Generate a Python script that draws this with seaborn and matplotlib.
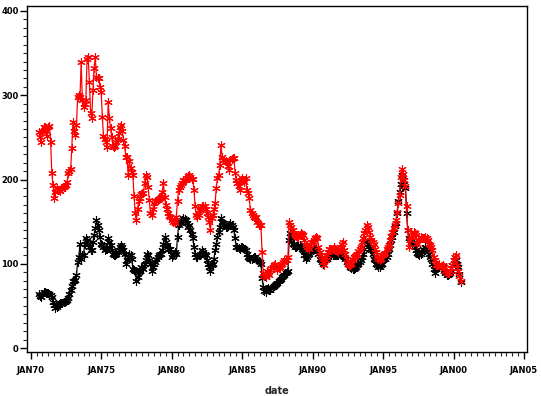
import numpy as np
import pandas as pd
import matplotlib
matplotlib.use("Agg")
import matplotlib.pyplot as plt
from matplotlib.ticker import MultipleLocator, FixedLocator, FixedFormatter
import seaborn as sns

# monthly series, Aug 1970 .. Jul 2000
red = [
    256, 250, 245, 258, 262,                                   # 1970 (Aug-Dec)
    262, 258, 252, 262, 264, 245, 208, 193, 178, 185, 190, 188,  # 1971
    188, 186, 190, 189, 191, 192, 194, 197, 208, 210, 212, 237,  # 1972
    268, 258, 253, 265, 298, 300, 298, 340, 294, 286, 290, 294,  # 1973
    343, 345, 316, 279, 273, 306, 332, 345, 322, 321, 320, 310,  # 1974
    304, 274, 252, 248, 245, 239, 292, 273, 261, 250, 240, 239,  # 1975
    240, 244, 248, 255, 262, 265, 257, 247, 240, 227, 227, 205,  # 1976
    222, 214, 209, 205, 180, 160, 152, 165, 175, 178, 183, 184,  # 1977
    184, 196, 205, 203, 191, 176, 160, 158, 165, 172, 174, 175,  # 1978
    176, 177, 178, 179, 185, 196, 179, 170, 165, 160, 157, 155,  # 1979
    152, 150, 151, 148, 156, 175, 188, 191, 193, 196, 199, 200,  # 1980
    200, 202, 204, 205, 203, 201, 201, 188, 168, 158, 156, 158,  # 1981
    164, 166, 168, 168, 168, 165, 160, 155, 150, 140, 154, 158,  # 1982
    165, 172, 190, 202, 205, 217, 241, 227, 223, 223, 222, 221,  # 1983
    216, 211, 223, 224, 225, 225, 208, 200, 196, 192, 188, 199,  # 1984
    202, 200, 197, 202, 188, 184, 178, 164, 160, 158, 156, 154,  # 1985
    156, 150, 146, 146, 146, 114, 89, 86, 84, 91, 89, 87,        # 1986
    93, 95, 96, 98, 100, 96, 93, 95, 96, 98, 100, 102,           # 1987
    104, 104, 104, 108, 150, 146, 144, 140, 136, 134, 133, 132,  # 1988
    132, 134, 136, 135, 134, 128, 122, 120, 120, 118, 122, 126,  # 1989
    126, 128, 130, 132, 130, 120, 114, 110, 108, 102, 98, 104,   # 1990
    110, 114, 118, 117, 116, 118, 120, 118, 116, 115, 114, 118,  # 1991
    120, 124, 126, 116, 112, 106, 100, 98, 99, 100, 104, 108,    # 1992
    109, 110, 112, 115, 118, 120, 126, 130, 136, 140, 146, 144,  # 1993
    138, 132, 128, 126, 124, 118, 114, 108, 106, 104, 106, 110,  # 1994
    110, 112, 113, 118, 120, 122, 128, 133, 138, 142, 146, 152,  # 1995
    162, 172, 182, 203, 213, 207, 199, 192, 168, 140, 120, 128,  # 1996
    132, 134, 138, 136, 134, 124, 128, 128, 132, 131, 130, 131,  # 1997
    132, 130, 128, 124, 122, 120, 116, 108, 104, 98, 98, 99,     # 1998
    100, 96, 97, 98, 96, 92, 89, 89, 89, 91, 95, 98,             # 1999
    104, 108, 110, 98, 91, 86, 79,                               # 2000 (Jan-Jul)
]

black = [
    64, 62, 61, 64, 66,                                          # 1970
    66, 65, 65, 65, 64, 63, 61, 55, 51, 47, 49, 51,              # 1971
    52, 53, 54, 54, 55, 55, 56, 57, 59, 64, 69, 74,              # 1972
    79, 80, 81, 87, 102, 108, 124, 106, 110, 110, 124, 130,      # 1973
    128, 124, 120, 116, 116, 126, 134, 142, 152, 146, 140, 132,  # 1974
    124, 122, 120, 116, 117, 118, 130, 126, 122, 116, 112, 111,  # 1975
    110, 112, 114, 116, 120, 122, 120, 116, 112, 100, 104, 108,  # 1976
    112, 110, 106, 94, 93, 92, 80, 84, 90, 92, 96, 95,           # 1977
    94, 100, 104, 112, 110, 104, 100, 92, 96, 100, 102, 106,     # 1978
    108, 110, 112, 112, 116, 124, 132, 126, 122, 118, 118, 118,  # 1979
    108, 110, 112, 114, 112, 132, 146, 148, 150, 152, 154, 153,  # 1980
    152, 148, 144, 146, 140, 135, 130, 120, 112, 108, 108, 110,  # 1981
    111, 112, 116, 114, 112, 110, 104, 100, 96, 92, 98, 100,     # 1982
    106, 116, 124, 132, 138, 144, 154, 150, 148, 146, 144, 144,  # 1983
    145, 146, 148, 146, 144, 140, 130, 120, 120, 119, 118, 120,  # 1984
    120, 119, 118, 116, 112, 108, 107, 106, 106, 107, 108, 108,  # 1985
    106, 104, 103, 102, 100, 83, 73, 68, 67, 70, 71, 69,         # 1986
    69, 71, 73, 74, 75, 76, 77, 79, 81, 82, 84, 85,              # 1987
    87, 89, 90, 92, 128, 136, 130, 124, 122, 120, 120, 121,      # 1988
    122, 122, 120, 118, 116, 110, 106, 108, 110, 112, 114, 116,  # 1989
    116, 118, 117, 118, 116, 112, 106, 104, 102, 100, 104, 106,  # 1990
    106, 108, 110, 112, 112, 111, 110, 110, 110, 110, 111, 112,  # 1991
    112, 110, 110, 108, 106, 102, 100, 98, 96, 95, 94, 94,       # 1992
    95, 96, 98, 100, 102, 104, 108, 112, 118, 128, 126, 124,     # 1993
    124, 118, 116, 112, 106, 104, 100, 98, 96, 96, 98, 100,      # 1994
    104, 106, 106, 108, 112, 118, 122, 128, 132, 138, 145, 148,  # 1995
    160, 175, 185, 195, 205, 199, 195, 190, 160, 140, 130, 128,  # 1996
    126, 125, 124, 120, 116, 113, 112, 110, 112, 114, 118, 116,  # 1997
    120, 118, 116, 112, 108, 106, 100, 94, 89, 94, 96, 98,       # 1998
    96, 96, 96, 97, 92, 89, 87, 87, 88, 89, 92, 98,              # 1999
    104, 108, 105, 100, 96, 88, 78,                              # 2000
]

tick_years = [1970, 1975, 1980, 1985, 1990, 1995, 2000, 2005]
tick_labels = ["JAN70", "JAN75", "JAN80", "JAN85", "JAN90", "JAN95", "JAN00", "JAN05"]
y_ticks = [0, 100, 200, 300, 400]

dates = pd.date_range("1970-08-01", periods=len(red), freq="MS")
df = pd.DataFrame({
    "date": dates.year + (dates.month - 1) / 12.0,
    "red": red,
    "black": black,
})

sns.set_style("ticks")
plt.rcParams["font.family"] = ["DejaVu Sans"]

fig = plt.figure(figsize=(5.41, 3.96), dpi=100)
ax = fig.add_axes([27 / 541, 44 / 396, 500 / 541, 346 / 396])

star = (6, 2, 0)
sns.lineplot(data=df, x="date", y="black", color="black", marker=star,
             markersize=6, markeredgewidth=0.8, markeredgecolor="black",
             linewidth=0.9, ax=ax)
sns.lineplot(data=df, x="date", y="red", color="#ff0000", marker=star,
             markersize=6, markeredgewidth=0.8, markeredgecolor="#ff0000",
             linewidth=0.9, ax=ax)

ax.set_xlim(1969.74, 2005.21)
ax.set_ylim(-4.7, 405.9)

ax.xaxis.set_major_locator(FixedLocator(tick_years))
ax.xaxis.set_major_formatter(FixedFormatter(tick_labels))
ax.xaxis.set_minor_locator(MultipleLocator(5 / 12))
ax.yaxis.set_major_locator(FixedLocator(y_ticks))
ax.yaxis.set_minor_locator(MultipleLocator(10))

for side in ["left", "right", "top", "bottom"]:
    ax.spines[side].set_visible(True)
    ax.spines[side].set_linewidth(1.0)
    ax.spines[side].set_color("black")

ax.tick_params(axis="both", which="major", length=5, width=1, labelsize=6,
               colors="black", direction="out")
ax.tick_params(axis="both", which="minor", length=3, width=0.8, direction="out")
ax.tick_params(axis="x", which="major", pad=5)
ax.tick_params(axis="y", which="major", pad=1)
for lbl in ax.get_xticklabels() + ax.get_yticklabels():
    lbl.set_fontweight("bold")

ax.set_xlabel("date", fontsize=7, fontweight="bold", labelpad=8)
ax.set_ylabel("")
ax.grid(False)

fig.savefig("out.png", dpi=100)
